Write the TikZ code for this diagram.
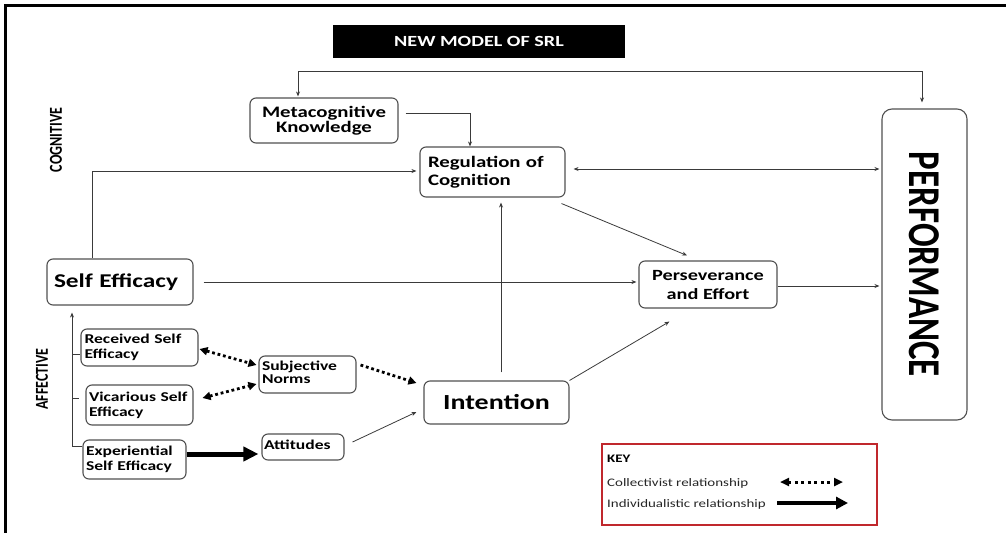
\documentclass[tikz,border=0pt]{standalone}
\usepackage{fontspec}
\setmainfont{Carlito}[FakeStretch=1.3]
\newfontfamily\rotfont{Carlito}
\usetikzlibrary{arrows.meta,calc}
\definecolor{lg}{HTML}{3A3A3A}
\definecolor{bg}{HTML}{505050}
\definecolor{keyred}{HTML}{C0282D}
\newcommand{\fs}[2]{\fontsize{#1}{#2}\selectfont}
\begin{document}
\begin{tikzpicture}[x=1pt,y=-1pt,
  box/.style={draw=bg, line width=1.1pt, rounded corners=6pt, inner sep=0pt, font=\bfseries, text=black},
  thin/.style={draw=lg, line width=0.8pt, -{Stealth[length=5pt,width=4pt]}},
  thinboth/.style={draw=lg, line width=0.8pt, {Stealth[length=5pt,width=4pt]}-{Stealth[length=5pt,width=4pt]}},
  plain/.style={draw=lg, line width=0.8pt},
  coll/.style={line width=2.8pt, dash pattern=on 2.8pt off 2.8pt, {Triangle[length=8pt,width=8pt]}-{Triangle[length=8pt,width=8pt]}},
  collone/.style={line width=2.8pt, dash pattern=on 2.8pt off 2.8pt, -{Triangle[length=8pt,width=8pt]}},
  indiv/.style={line width=5pt, -{Triangle[length=15pt,width=14pt]}},
  keycoll/.style={line width=3pt, dash pattern=on 3pt off 3.5pt, {Triangle[length=9pt,width=8pt]}-{Triangle[length=9pt,width=8pt]}},
  keyind/.style={line width=3.8pt, -{Triangle[length=12pt,width=12pt]}},
  keytext/.style={anchor=base west, inner sep=0pt, text=black!85, font=\fs{11.5}{12}}
]
\useasboundingbox (0,0) rectangle (1006,533);
\draw[line width=3pt, line join=miter] (1006,5) -- (5.5,5) -- (5.5,533);

% title
\node[fill=black, minimum width=292pt, minimum height=33pt, inner sep=0pt, text=white, font=\bfseries\fs{15.5}{16}] (title) at (479,41.5) {NEW MODEL OF SRL};

% side labels
\node[rotate=90, inner sep=0pt, font=\rotfont\bfseries\fs{14}{14}] (cog) at (56,140) {\scalebox{1}[1.3]{COGNITIVE}};
\node[rotate=90, inner sep=0pt, font=\rotfont\bfseries\fs{14}{14}] (aff) at (42,379) {\scalebox{1}[1.3]{AFFECTIVE}};

% boxes
\node[box, minimum width=148pt, minimum height=45pt, align=center, font=\bfseries\fs{16}{13.5}] (meta) at (324,120.5) {Metacognitive\\Knowledge};
\node[box, minimum width=145pt, minimum height=50pt, text width=129pt, inner xsep=8pt, align=left, font=\bfseries\fs{16}{18}] (reg) at (492.5,172) {Regulation of\\Cognition};
\node[box, minimum width=146pt, minimum height=46pt, text width=132pt, inner xsep=7pt, align=left, font=\bfseries\fs{19.5}{20}] (self) at (120,282) {Self Efficacy};
\node[box, minimum width=138pt, minimum height=47pt, align=center, font=\bfseries\fs{15.6}{19}] (pers) at (708,284.5) {Perseverance\\and Effort};
\node[box, minimum width=85pt, minimum height=311pt, rounded corners=10pt] (perf) at (924.5,264.5) {};
\node[rotate=-90, inner sep=0pt, font=\rotfont\bfseries\fs{35}{35}] (perft) at (perf.center) {\scalebox{1}[1.3]{PERFORMANCE}};
\node[box, minimum width=145pt, minimum height=43pt, align=center, font=\bfseries\fs{21.5}{22}] (intent) at (496.5,402.5) {Intention};
\node[box, minimum width=117pt, minimum height=37pt, text width=110pt, inner xsep=3.5pt, align=left, font=\bfseries\fs{13.5}{15}] (recv) at (139.5,347.5) {Received Self\\Efficacy};
\node[box, minimum width=107pt, minimum height=40pt, text width=101pt, inner xsep=3pt, align=left, font=\bfseries\fs{13.5}{15}] (vic) at (139.5,405) {Vicarious Self\\Efficacy};
\node[box, minimum width=103pt, minimum height=39pt, text width=97pt, inner xsep=3pt, align=left, font=\bfseries\fs{13.5}{15}] (exp) at (134.5,459.5) {Experiential\\Self Efficacy};
\node[box, minimum width=97pt, minimum height=37pt, text width=91pt, inner xsep=3pt, align=left, font=\bfseries\fs{13.5}{14}] (subj) at (307.5,374.5) {\raisebox{3pt}{\begin{tabular}{@{}l@{}}Subjective\\[-1pt]Norms\end{tabular}}};
\node[box, minimum width=82pt, minimum height=26pt, text width=78pt, inner xsep=2pt, align=left, font=\bfseries\fs{13.5}{14}] (att) at (303,447) {\raisebox{4pt}{Attitudes}};

% connectors
\coordinate (tl) at (298,71);
\coordinate (tr) at (922,71);
\draw[thinboth, shorten <=1pt, shorten >=6pt] (meta.north -| tl) -- (tl) -- (tr) -- (perf.north -| tr);

\coordinate (mk) at (470,113);
\draw[thin] ($(meta.east |- mk)+(7,0)$) -- (mk) -- (reg.north -| mk);

\coordinate (sr) at (92,171);
\draw[thin, shorten >=3pt] (self.north -| sr) -- (sr) -- (reg.west |- sr);

\coordinate (rp) at (700,169);
\draw[thinboth, shorten <=8pt, shorten >=2pt] (reg.east |- rp) -- (perf.west |- rp);

\draw[thin] ($(reg.south east)+(-4,6)$) -- ($(pers.north)+(-21,-5)$);
\draw[thin, shorten <=10pt, shorten >=2pt] (self.east) -- (pers.west |- self.east);
\coordinate (pp) at (800,286);
\draw[thin, shorten >=2pt] (pers.east |- pp) -- (perf.west |- pp);

\coordinate (ir) at ($(intent.north)+(4.5,-8)$);
\draw[thin, shorten >=5pt] (ir) -- (reg.south -| ir);
\draw[thin] (intent.north east) -- ($(pers.south west)+(31,13)$);

\draw[collone] ($(subj.east)+(4,-9.5)$) -- ($(intent.west)+(-7,-19.5)$);
\draw[thin] ($(att.east)+(8,-5)$) -- ($(intent.west)+(-7,9.5)$);
\draw[coll] ($(recv.east)+(1,1.5)$) -- ($(subj.west)+(-2,-9.5)$);
\draw[coll] ($(vic.east)+(9,-7)$) -- ($(subj.west)+(-2,9.5)$);
\coordinate (ea) at (220,454);
\draw[indiv, shorten >=3pt] (exp.east |- ea) -- (att.west |- ea);

% affective bracket
\coordinate (bk) at (72,446);
\draw[thin, shorten >=7pt] (exp.west |- bk) -- (bk) -- (bk |- self.south);
\coordinate (t1) at (72,354);
\coordinate (t2) at (72,398);
\draw[plain] (t1) -- (recv.west |- t1);
\draw[plain] (t2) -- ($(vic.west |- t2)+(-6,0)$);

% key
\node[draw=keyred, line width=1.8pt, minimum width=275pt, minimum height=81pt, inner sep=0pt] (key) at (739.5,484.5) {};
\node[keytext, text=black, font=\bfseries\fs{11.5}{12}] (keyt) at (607,462) {KEY};
\node[keytext] (kc) at (607,486) {Collectivist relationship};
\node[keytext] (ki) at (607,507) {Individualistic relationship};
\coordinate (kc1) at (780,482);
\coordinate (kc2) at (843,482);
\coordinate (ki1) at (777,503);
\coordinate (ki2) at (848,503);
\draw[keycoll] (kc1) -- (kc2);
\draw[keyind] (ki1) -- (ki2);
\end{tikzpicture}
\end{document}
